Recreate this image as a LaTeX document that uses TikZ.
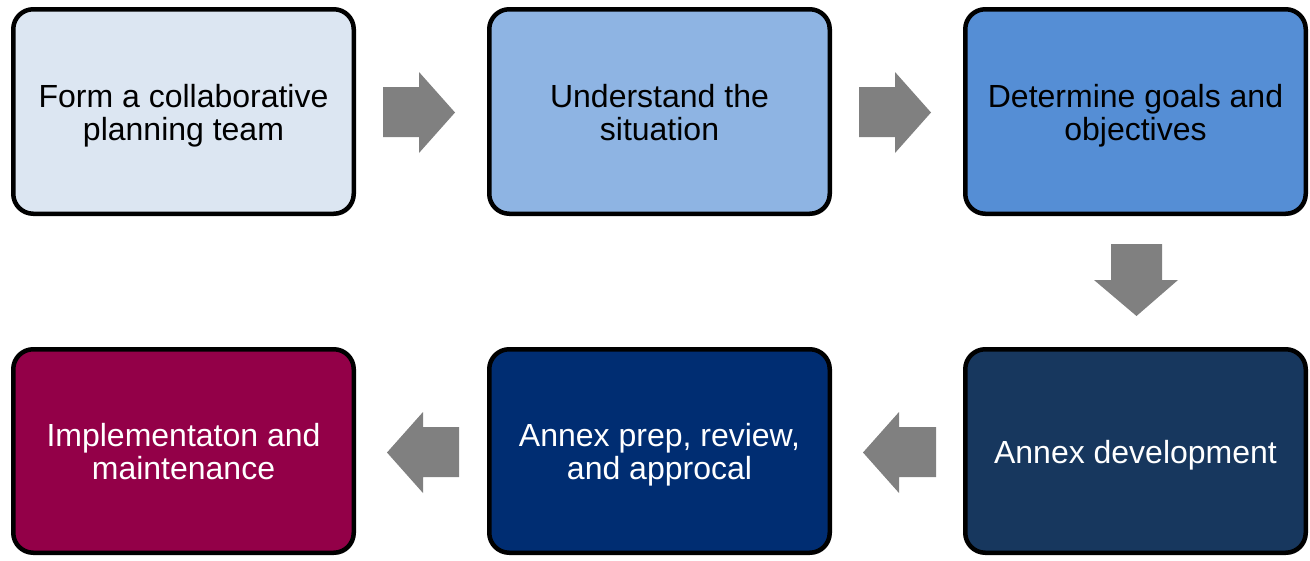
\documentclass[tikz,border=0pt]{standalone}
\usepackage{fontspec}
\setmainfont{Liberation Sans}
\usetikzlibrary{shadows}
\definecolor{cA}{HTML}{DCE6F2}
\definecolor{cB}{HTML}{8EB4E3}
\definecolor{cC}{HTML}{558ED5}
\definecolor{cD}{HTML}{17375E}
\definecolor{cE}{HTML}{002D72}
\definecolor{cF}{HTML}{930048}
\definecolor{arr}{HTML}{808080}
\newcommand{\tstrut}{\vphantom{Agy}}
\begin{document}
\begin{tikzpicture}[x=1pt,y=-1pt,
  stepbox/.style={draw=black,line width=4.5pt,rounded corners=20pt,
    drop shadow={shadow xshift=1.5pt,shadow yshift=-2pt,fill=black,opacity=0.3}},
  lbl/.style={align=center,font=\fontsize{32}{33}\selectfont,inner sep=0pt},
  blockarrow/.style={fill=arr,draw=none}]
\useasboundingbox (0,0) rectangle (1310,560);
% boxes (outer edges inset by half line width)
\draw[stepbox,fill=cA] (13.25,9.25) rectangle (353.75,213.75);
\draw[stepbox,fill=cB] (489.25,9.25) rectangle (829.75,213.75);
\draw[stepbox,fill=cC] (965.25,9.25) rectangle (1305.75,213.75);
\draw[stepbox,fill=cF] (13.25,349.25) rectangle (353.75,552.75);
\draw[stepbox,fill=cE] (489.25,349.25) rectangle (829.75,552.75);
\draw[stepbox,fill=cD] (965.25,349.25) rectangle (1305.75,552.75);
% labels
\node[lbl] (b1) at (183.5,115.5) {\tstrut Form a collaborative\\planning team\tstrut};
\node[lbl] (b2) at (659.5,115.5) {\tstrut Understand the\\situation\tstrut};
\node[lbl] (b3) at (1135.5,115.5) {\tstrut Determine goals and\\objectives\tstrut};
\node[lbl,text=white] (b4) at (1135.5,455) {\tstrut Annex development\tstrut};
\node[lbl,text=white] (b5) at (659.5,454.5) {\tstrut Annex prep, review,\\and approcal\tstrut};
\node[lbl,text=white] (b6) at (183.5,454.5) {\tstrut Implementaton and\\maintenance\tstrut};
% block arrows
\fill[blockarrow] (383,87) -- (419,87) -- (419,72) -- (455,112.5) -- (419,153) -- (419,137) -- (383,137) -- cycle;
\fill[blockarrow] (859,87) -- (895,87) -- (895,72) -- (931,112.5) -- (895,153) -- (895,137) -- (859,137) -- cycle;
\fill[blockarrow] (1111,244) -- (1162,244) -- (1162,280) -- (1178,280) -- (1136.5,316) -- (1094,280) -- (1111,280) -- cycle;
\fill[blockarrow] (936,427) -- (899,427) -- (899,412) -- (863,452.5) -- (899,493) -- (899,477) -- (936,477) -- cycle;
\fill[blockarrow] (459,427) -- (423,427) -- (423,412) -- (387,452.5) -- (423,493) -- (423,477) -- (459,477) -- cycle;
\end{tikzpicture}
\end{document}
